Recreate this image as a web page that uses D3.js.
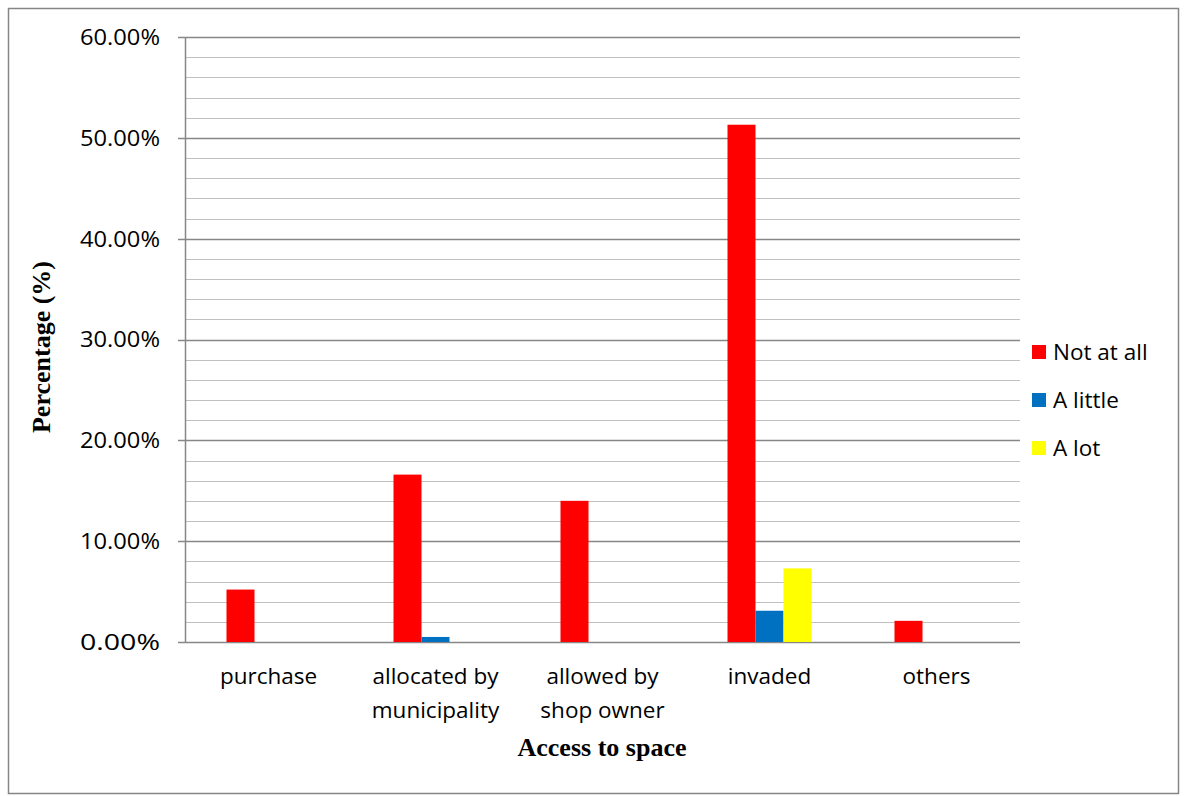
<!DOCTYPE html>
<html><head><meta charset="utf-8">
<script src="https://cdn.jsdelivr.net/npm/d3@7"></script>
<style>body{margin:0;background:#fff}</style>
</head><body>
<svg id="c" width="1186" height="796"></svg>
<script>
const categories = [["purchase"], ["allocated by", "municipality"], ["allowed by", "shop owner"], ["invaded"], ["others"]];
const seriesNames = ["Not at all", "A little", "A lot"];
const notAtAll = [5.2, 16.6, 14.0, 51.3, 2.1];
const aLittle = [0, 0.5, 0, 3.1, 0];
const aLot = [0, 0, 0, 7.3, 0];
const colors = ["#ff0000", "#0070c0", "#ffff00"];
const yTicks = [0, 10, 20, 30, 40, 50, 60];

const series = [notAtAll, aLittle, aLot];
const svg = d3.select("#c");
const font = "'Open Sans', 'Noto Sans', sans-serif";
const fs = 22.5;

svg.append("rect").attr("x", 8.5).attr("y", 8.5).attr("width", 1170).attr("height", 785)
  .attr("fill", "#fff").attr("stroke", "#868686").attr("stroke-width", 1.5);

const L = 185, R = 1020, T = 37, B = 642;
const y = d3.scaleLinear().domain([0, 60]).range([B, T]);
const x0 = d3.scaleBand().domain(d3.range(categories.length)).range([L, R]);
const groupW = 84;
const x1 = d3.scaleBand().domain(d3.range(3)).range([0, groupW]);

const minor = d3.range(0, 61, 2).filter(v => v % 10 !== 0);
svg.append("g").selectAll("line").data(minor).join("line")
  .attr("x1", L).attr("x2", R).attr("y1", d => Math.round(y(d)) + 0.5).attr("y2", d => Math.round(y(d)) + 0.5)
  .attr("stroke", "#c0c0c0").attr("stroke-width", 1.2);
svg.append("g").selectAll("line").data(yTicks).join("line")
  .attr("x1", L - 7).attr("x2", R).attr("y1", d => Math.round(y(d)) + 0.5).attr("y2", d => Math.round(y(d)) + 0.5)
  .attr("stroke", "#878787").attr("stroke-width", 1.5);

series.forEach((s, si) => {
  svg.append("g").selectAll("rect").data(s).join("rect")
    .attr("x", (d, i) => x0(i) + (x0.bandwidth() - groupW) / 2 + x1(si))
    .attr("width", x1.bandwidth())
    .attr("y", d => y(d)).attr("height", d => B - y(d))
    .attr("fill", colors[si]);
});

svg.append("line").attr("x1", L + 0.5).attr("x2", L + 0.5).attr("y1", T).attr("y2", B)
  .attr("stroke", "#878787").attr("stroke-width", 1.5);

svg.append("g").selectAll("text").data(yTicks).join("text")
  .attr("x", 160).attr("y", d => y(d)).attr("dy", "0.35em").attr("text-anchor", "end")
  .attr("font-family", font).attr("font-size", fs).attr("fill", "#000")
  .attr("textLength", 80).attr("lengthAdjust", "spacingAndGlyphs")
  .text(d => d.toFixed(2) + "%");

const xl = svg.append("g").selectAll("text").data(categories).join("text")
  .attr("x", (d, i) => x0(i) + x0.bandwidth() / 2).attr("y", 684)
  .attr("text-anchor", "middle").attr("font-family", font).attr("font-size", fs).attr("fill", "#000");
xl.each(function(d) {
  const t = d3.select(this);
  d.forEach((line, k) => t.append("tspan").attr("x", t.attr("x")).attr("dy", k === 0 ? 0 : 34).text(line));
});

svg.append("text").attr("x", 602).attr("y", 756).attr("text-anchor", "middle")
  .attr("font-family", "'Liberation Serif', serif").attr("font-weight", "bold").attr("font-size", 26)
  .text("Access to space");
svg.append("text").attr("transform", "translate(50,347) rotate(-90)").attr("text-anchor", "middle")
  .attr("font-family", "'Liberation Serif', serif").attr("font-weight", "bold").attr("font-size", 26)
  .text("Percentage (%)");

const lg = svg.append("g").selectAll("g").data(seriesNames).join("g")
  .attr("transform", (d, i) => `translate(1032,${352 + i * 48})`);
lg.append("rect").attr("x", 0).attr("y", -7).attr("width", 14).attr("height", 14).attr("fill", (d, i) => colors[i]);
lg.append("text").attr("x", 21).attr("y", 0).attr("dy", "0.35em")
  .attr("font-family", font).attr("font-size", fs).text(d => d);
</script>
</body></html>
